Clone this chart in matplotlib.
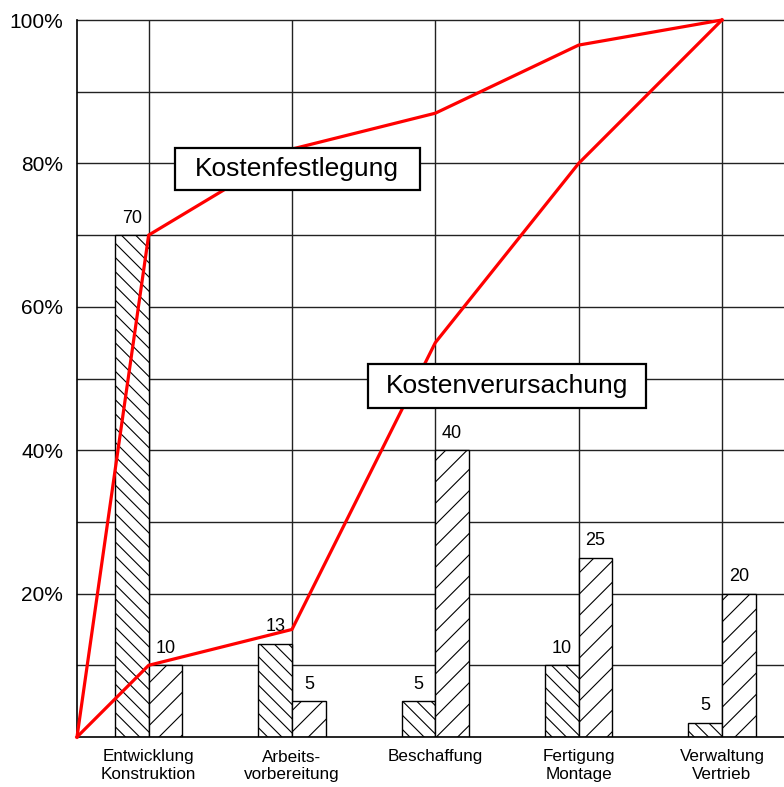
import matplotlib
matplotlib.use("Agg")
import matplotlib.pyplot as plt
import numpy as np
from matplotlib.patches import Rectangle

DPI = 128                 # chosen so the hatch spacing matches the reference
K = 100 / DPI             # sizes below are tuned for 100 dpi, scale them

plt.rcParams["font.family"] = ["Liberation Sans", "DejaVu Sans"]
plt.rcParams["hatch.linewidth"] = 0.8 * K

categories = ["Entwicklung\nKonstruktion", "Arbeits-\nvorbereitung", "Beschaffung",
              "Fertigung\nMontage", "Verwaltung\nVertrieb"]
festlegung_bars = [70, 13, 5, 10, 2]          # drawn heights
festlegung_labels = ["70", "13", "5", "10", "5"]
verursachung_bars = [10, 5, 40, 25, 20]
verursachung_labels = ["10", "5", "40", "25", "20"]
festlegung_curve = [0, 70, 82, 87, 96.5, 100]
verursachung_curve = [0, 10, 15, 55, 80, 100]

fig = plt.figure(figsize=(784 / DPI, 787 / DPI), dpi=DPI)
ax = fig.add_axes([77 / 784, 50 / 787, 707 / 784, 717 / 787])

x = np.arange(len(categories))
w = 0.235
ax.set_xlim(-0.5, 4.433)
ax.set_ylim(0, 100)

# grid: horizontal every 10 %, vertical only at category centres
for yv in range(10, 101, 10):
    ax.axhline(yv, color="#222222", lw=1.0 * K, zorder=1, clip_on=False)
for xv in x:
    ax.axvline(xv, color="#222222", lw=1.0 * K, zorder=1)

b1 = ax.bar(x - w / 2, festlegung_bars, w, color="white", edgecolor="black",
            hatch="\\\\\\", lw=1.0 * K, zorder=2)
b2 = ax.bar(x + w / 2, verursachung_bars, w, color="white", edgecolor="black",
            hatch="//", lw=1.0 * K, zorder=2)
for bars, labs in [(b1, festlegung_labels), (b2, verursachung_labels)]:
    for r, lab in zip(bars, labs):
        ax.annotate(lab, (r.get_x() + r.get_width() / 2, r.get_height()),
                    xytext=(0, 6 * K), textcoords="offset points", ha="center", va="bottom",
                    fontsize=13 * K, zorder=3)

cx = np.r_[-0.5, x]
ax.plot(cx, festlegung_curve, color="red", lw=2.3 * K, zorder=4, clip_on=False)
ax.plot(cx, verursachung_curve, color="red", lw=2.3 * K, zorder=4, clip_on=False)

# label boxes
for txt, (bx, by), (bw, bh) in [("Kostenfestlegung", (1.036, 79.2), (1.71, 5.86)),
                                 ("Kostenverursachung", (2.50, 49.0), (1.94, 6.14))]:
    ax.add_patch(Rectangle((bx - bw / 2, by - bh / 2), bw, bh, facecolor="white",
                           edgecolor="black", lw=1.6 * K, zorder=5))
    ax.text(bx, by, txt, ha="center", va="center", fontsize=19 * K, zorder=6)

ax.set_xticks(x)
ax.set_xticklabels(categories, fontsize=12.3 * K, linespacing=1.2)
ax.set_yticks([20, 40, 60, 80, 100])
ax.set_yticklabels([f"{v}%" for v in [20, 40, 60, 80, 100]], fontsize=15 * K)
ax.tick_params(axis="both", length=0)
ax.tick_params(axis="x", pad=9 * K)
ax.tick_params(axis="y", pad=10 * K)
for s in ["top", "right"]:
    ax.spines[s].set_visible(False)
for s in ["left", "bottom"]:
    ax.spines[s].set_linewidth(1.2 * K)
    ax.spines[s].set_zorder(3)

fig.savefig("out.png", dpi=DPI)
